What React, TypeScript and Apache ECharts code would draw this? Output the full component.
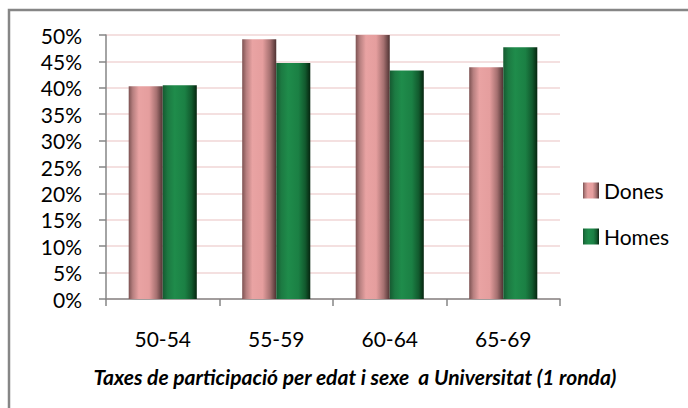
import React, { useEffect, useRef } from "react";
import * as echarts from "echarts";

const categories = ["50-54", "55-59", "60-64", "65-69"];
const dones = [40.3, 49.2, 50.0, 43.9];
const homes = [40.5, 44.7, 43.3, 47.7];
const seriesNames = ["Dones", "Homes"];
const chartTitle = "Taxes de participació per edat i sexe  a Universitat (1 ronda)";

const FONT = "Lato, 'Open Sans', sans-serif";

export default function App() {
  const ref = useRef<HTMLDivElement>(null);
  useEffect(() => {
    if (!ref.current) return;
    const chart = echarts.init(ref.current, null, { renderer: "svg" });
    const pinkGrad = new echarts.graphic.LinearGradient(0, 0, 1, 0, [
      { offset: 0, color: "#7d5252" },
      { offset: 0.12, color: "#b67f7f" },
      { offset: 0.3, color: "#e9a3a3" },
      { offset: 0.6, color: "#e59e9e" },
      { offset: 0.82, color: "#a57070" },
      { offset: 1, color: "#4e3232" },
    ]);
    const greenGrad = new echarts.graphic.LinearGradient(0, 0, 1, 0, [
      { offset: 0, color: "#165a31" },
      { offset: 0.15, color: "#1c7a42" },
      { offset: 0.35, color: "#1f8c4b" },
      { offset: 0.65, color: "#1b8044" },
      { offset: 0.85, color: "#125a2e" },
      { offset: 1, color: "#06250f" },
    ]);
    chart.setOption({
      animation: false,
      textStyle: { fontFamily: FONT },
      grid: { left: 106, top: 35, right: 128, bottom: 109 },
      graphic: [
        {
          type: "rect",
          shape: { x: 9, y: 10, width: 700, height: 420 },
          style: { fill: "none", stroke: "#868686", lineWidth: 2.5 },
          silent: true,
        },
      ],
      title: {
        text: chartTitle,
        left: 350,
        top: 361,
        textAlign: "center",
        textStyle: {
          fontFamily: FONT,
          fontSize: 21,
          fontWeight: "bold",
          fontStyle: "italic",
          color: "#000",
        },
      },
      legend: {
        orient: "vertical",
        left: 578,
        top: 175,
        itemWidth: 16,
        itemHeight: 16,
        itemGap: 25,
        icon: "rect",
        textStyle: { fontFamily: FONT, fontSize: 21, color: "#000" },
        data: seriesNames,
      },
      xAxis: {
        type: "category",
        data: categories,
        axisLine: { lineStyle: { color: "#868686", width: 1.5 } },
        axisTick: { show: true, length: 7, lineStyle: { color: "#868686", width: 1.5 } },
        axisLabel: { color: "#000", fontSize: 21, margin: 29, fontFamily: FONT },
      },
      yAxis: {
        type: "value",
        min: 0,
        max: 50,
        interval: 5,
        axisLine: { show: true, lineStyle: { color: "#868686", width: 1.5 } },
        axisTick: { show: true, length: 7, inside: false, lineStyle: { color: "#868686", width: 1.5 } },
        axisLabel: {
          color: "#000",
          fontSize: 21,
          margin: 24,
          fontFamily: FONT,
          formatter: (v: number) => v + "%",
        },
        splitLine: { lineStyle: { color: "#f0d6d6", width: 1.5 } },
      },
      series: [
        {
          name: seriesNames[0],
          type: "bar",
          data: dones,
          barGap: "0%",
          barCategoryGap: "40%",
          itemStyle: { color: pinkGrad },
        },
        {
          name: seriesNames[1],
          type: "bar",
          data: homes,
          itemStyle: { color: greenGrad },
        },
      ],
    });
    return () => chart.dispose();
  }, []);
  return <div ref={ref} style={{ width: 688, height: 408, position: "absolute", left: 0, top: 0 }} />;
}
